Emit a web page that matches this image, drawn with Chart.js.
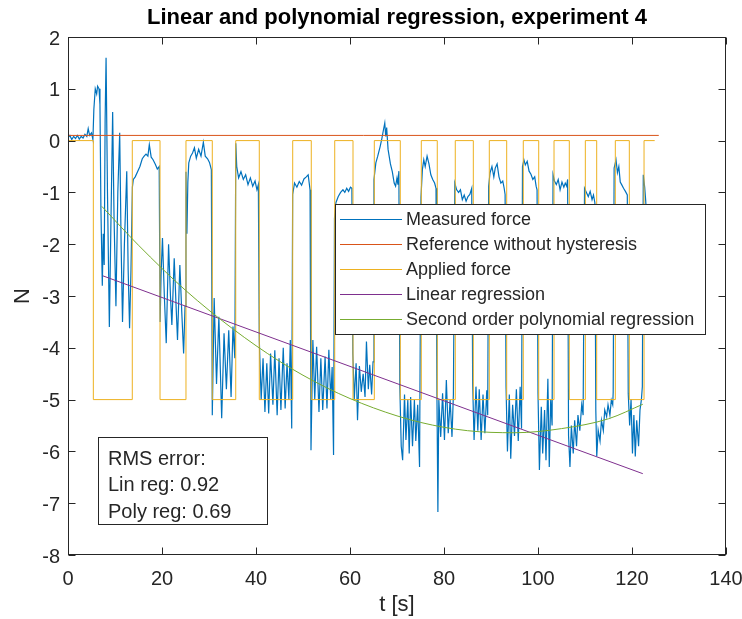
<!DOCTYPE html>
<html><head><meta charset="utf-8">
<script src="https://cdn.jsdelivr.net/npm/chart.js@4.4.1/dist/chart.umd.min.js"></script>
<style>html,body{margin:0;padding:0;background:#fff;}#wrap{width:742px;height:619px;}</style>
</head><body><div id="wrap"><canvas id="c" width="742" height="619"></canvas></div>
<script>
const titleText = 'Linear and polynomial regression, experiment 4';
const xLabel = 't [s]';
const yLabel = 'N';
const seriesNames = ['Measured force','Reference without hysteresis','Applied force','Linear regression','Second order polynomial regression'];
const rmsLines = ['RMS error:','Lin reg: 0.92','Poly reg: 0.69'];
const xTicks = [0,20,40,60,80,100,120,140];
const yTicks = [2,1,0,-1,-2,-3,-4,-5,-6,-7,-8];

const measuredT = [
0,0.4,0.8,1.2,1.6,2.0,2.4,2.8,3.2,3.6,4.0,4.3,4.6,5.0,5.3,
5.5,5.8,6.1,6.3,6.6,6.8,7.0,7.3,7.5,7.7,7.9,8.1,8.4,8.8,9.1,9.5,9.8,10.2,10.6,11.0,11.3,11.6,12.0,12.5,12.8,13.1,13.4,
13.7,13.9,14.3,14.8,15.3,15.8,16.2,16.6,17.0,17.3,17.7,18.1,18.6,19.0,19.4,
19.6,19.8,20.1,20.5,20.9,21.4,21.8,22.1,22.6,23.0,23.3,23.8,24.2,24.6,24.9,
25.1,25.3,25.5,25.7,26.1,26.5,26.9,27.3,27.8,28.3,28.8,29.2,29.7,30.1,30.5,
30.7,31.1,31.6,32.1,32.7,33.2,33.7,34.2,34.7,35.1,35.5,
35.7,35.9,36.3,36.8,37.3,37.8,38.3,38.8,39.3,39.8,40.2,40.5,
40.7,41.1,41.5,41.9,42.3,42.7,43.1,43.6,44.0,44.5,44.9,45.3,45.8,46.2,46.6,47.0,47.3,47.6,
47.8,48.2,48.7,49.2,49.7,50.2,50.7,51.1,51.5,
51.7,52.1,52.5,52.9,53.4,53.8,54.2,54.7,55.1,55.5,55.9,56.2,56.5,
56.7,57.0,57.5,58.0,58.5,58.9,59.3,59.7,60.1,60.4,
60.6,60.9,61.3,61.6,62.0,62.4,62.8,63.2,63.5,63.9,64.2,64.6,64.9,
65.1,65.5,65.9,66.4,66.8,67.1,67.4,67.6,67.8,68.1,68.6,69.0,69.4,69.7,70.0,70.2,70.4,
70.6,70.9,71.2,71.6,71.9,72.3,72.6,72.9,73.3,73.7,74.0,74.4,74.8,
75.1,75.4,75.7,76.0,76.4,76.8,77.2,77.6,78.0,78.3,
78.5,78.7,78.9,79.3,79.7,80.1,80.5,80.9,81.3,81.7,82.0,
82.3,82.7,83.1,83.5,83.9,84.3,84.7,85.1,85.5,85.9,
86.1,86.4,86.8,87.2,87.5,87.9,88.3,88.7,89.1,89.3,
89.5,89.8,90.2,90.6,90.9,91.3,91.7,92.1,92.5,92.8,93.0,
93.2,93.5,93.9,94.2,94.6,95.0,95.4,95.8,96.2,96.5,
96.7,97.0,97.3,97.7,98.1,98.5,98.9,99.3,99.6,99.8,
100.0,100.3,100.7,101.0,101.4,101.7,102.1,102.4,102.7,103.0,
103.2,103.5,103.9,104.3,104.7,105.1,105.5,105.8,106.1,106.3,
106.5,106.8,107.1,107.5,107.8,108.2,108.5,108.9,109.3,109.6,
109.9,110.3,110.7,111.1,111.5,111.8,112.1,
112.3,112.5,112.8,113.2,113.5,113.9,114.2,114.6,114.9,115.3,115.6,115.9,116.0,
116.2,116.6,116.9,117.2,117.5,117.8,118.2,118.6,119.0,
119.2,119.5,119.8,120.1,120.4,120.7,121.0,121.4,121.7,122.0,122.2,
122.4,122.7,122.9,123.2];
const measuredN = [
0.05,0.1,0.02,0.08,0.04,0.1,0.03,0.08,0.05,0.12,0.08,0.23,0.1,0.15,0.02,
0.6,1.0,0.9,1.05,1.0,0.7,-1.3,-2.8,-1.8,-2.4,0.4,1.6,-1.0,-3.6,-1.8,0.55,-1.5,-3.2,-1.0,0.15,-2.0,-3.5,-2.0,-0.59,-2.5,-3.62,-2.5,
-0.9,-0.75,-0.7,-0.6,-0.5,-0.35,-0.3,-0.26,-0.3,-0.08,-0.32,-0.37,-0.46,-0.55,-0.5,
-3.5,-2.6,-1.88,-3.0,-3.91,-2.0,-3.0,-3.56,-2.27,-3.2,-3.85,-2.4,-3.3,-4.11,-3.2,
-0.6,-1.8,-0.8,-0.43,-0.3,-0.24,-0.14,-0.34,-0.17,-0.3,-0.03,-0.3,-0.35,-0.42,-0.56,
-5.3,-3.04,-4.7,-3.4,-5.36,-3.72,-4.8,-3.66,-4.95,-3.59,-4.2,
-0.05,-0.5,-0.72,-0.6,-0.75,-0.66,-0.85,-0.72,-0.88,-0.78,-0.95,-0.85,
-3.85,-5.0,-4.2,-5.24,-4.3,-5.27,-4.11,-5.1,-4.05,-5.3,-4.2,-5.2,-4.0,-5.17,-4.3,-5.0,-3.85,-5.56,
-1.04,-0.82,-0.9,-0.79,-0.86,-0.74,-0.7,-0.66,-0.95,
-5.98,-3.85,-5.0,-3.98,-5.24,-4.2,-5.2,-4.17,-5.17,-4.04,-5.0,-4.37,-6.07,
-1.5,-1.2,-1.08,-1.0,-0.95,-1.0,-0.92,-0.98,-0.9,-0.92,
-4.11,-5.0,-4.3,-5.4,-4.35,-4.85,-4.5,-4.95,-3.88,-4.8,-4.33,-4.9,-4.27,
-0.75,-0.43,-0.3,-0.12,0.05,0.2,0.34,0.08,0.25,-0.17,-0.45,-0.6,-0.82,-0.88,-0.72,-0.85,-0.59,
-4.75,-5.9,-6.17,-4.9,-5.78,-5.0,-6.04,-4.95,-5.9,-5.01,-5.8,-5.1,-6.3,
-1.1,-0.56,-0.37,-0.5,-0.3,-0.45,-0.66,-0.75,-0.82,-0.92,
-4.95,-7.17,-5.0,-5.72,-4.88,-5.78,-4.62,-5.65,-5.01,-5.72,-4.9,
-0.82,-0.95,-1.0,-0.95,-1.14,-1.05,-1.17,-1.08,-1.04,-0.92,
-4.7,-5.78,-4.75,-5.6,-4.8,-5.78,-4.9,-5.65,-4.82,-5.3,
-0.88,-0.62,-0.5,-0.7,-0.53,-0.45,-0.7,-0.82,-0.78,-0.92,-1.04,
-4.75,-6.0,-4.9,-6.14,-5.1,-5.7,-4.8,-5.8,-4.75,-5.56,
-0.5,-0.37,-0.47,-0.4,-0.59,-0.65,-0.75,-0.7,-0.88,-0.95,
-4.88,-6.36,-5.14,-6.04,-5.2,-6.17,-4.6,-6.3,-5.0,-5.5,
-0.66,-0.78,-0.85,-0.75,-0.95,-0.8,-0.9,-0.82,-0.88,-0.75,
-5.7,-6.3,-5.5,-6.04,-5.4,-5.9,-5.3,-5.6,-5.1,-5.3,
-0.92,-1.0,-1.08,-0.98,-1.14,-1.05,-1.2,
-5.2,-6.1,-5.59,-5.8,-5.4,-5.6,-5.2,-5.33,-5.1,-5.3,-5.01,-5.1,-4.85,
-0.53,-0.37,-0.62,-0.5,-0.8,-0.85,-0.92,-0.98,-1.05,
-4.88,-5.5,-5.0,-6.04,-5.3,-6.1,-5.4,-5.9,-5.2,-5.0,-4.75,
-0.66,-0.9,-1.14,-1.6];

const referenceT = [0, 125.7];
const referenceN = [0.1, 0.1];

const appliedT = [0,5.39,13.68,19.58,25.1,30.7,35.69,40.7,47.81,51.76,56.75,60.64,65.17,70.7,75.17,78.57,82.4,86.24,89.64,93.34,96.87,100.15,103.41,106.66,110.07,112.49,116.45,119.43,122.56,124.83];
const appliedN = [0,-5,0,-5,0,-5,0,-5,0,-5,0,-5,0,-5,0,-5,0,-5,0,-5,0,-5,0,-5,0,-5,0,-5,0,0];

const linearT = [7.4, 122.3];
const linearN = [-2.61, -6.43];

const polyT = [7.2,15,25,35,45,55,65,75,85,95,105,115,122.3];
const polyN = [-1.27,-2.02,-2.89,-3.63,-4.26,-4.77,-5.16,-5.44,-5.6,-5.64,-5.56,-5.37,-5.09];

const colors = ['#0072BD','#D95319','#EDB120','#7E2F8E','#77AC30'];
const widths = [1.2, 1, 1, 1, 1];
const ink = '#262626';
const FONT = '"Liberation Sans", Arial, sans-serif';

function pts(t, v){ return t.map((x,i)=>({x:x, y:v[i]})); }

const frame = {
  id: 'frame',
  afterDatasetsDraw(chart){
    const {ctx, chartArea:a, scales} = chart;
    const xs = scales.x, ys = scales.y;
    ctx.save();
    ctx.strokeStyle = ink; ctx.lineWidth = 1;
    const L = Math.round(a.left)+0.5, R = Math.round(a.right)-0.5, T = Math.round(a.top)+0.5, B = Math.round(a.bottom)-0.5;
    ctx.beginPath();
    xTicks.forEach(v=>{ const p = Math.round(xs.getPixelForValue(v))+0.5; ctx.moveTo(p,B); ctx.lineTo(p,B-7); ctx.moveTo(p,T); ctx.lineTo(p,T+7); });
    yTicks.forEach(v=>{ const p = Math.round(ys.getPixelForValue(v))+0.5; ctx.moveTo(L,p); ctx.lineTo(L+7,p); ctx.moveTo(R,p); ctx.lineTo(R-7,p); });
    ctx.stroke();
    ctx.strokeRect(L, T, R-L, B-T);

    // legend box
    const lx = 335.5, ly = 204.5, lw = 370, lh = 130;
    ctx.fillStyle = '#fff'; ctx.fillRect(lx, ly, lw, lh);
    ctx.strokeStyle = ink; ctx.strokeRect(lx, ly, lw, lh);
    ctx.font = '18px ' + FONT; ctx.textBaseline = 'middle'; ctx.textAlign = 'left';
    chart.data.datasets.forEach((ds,i)=>{
      const yy = 219.5 + i*25;
      ctx.strokeStyle = ds.borderColor; ctx.lineWidth = 1;
      ctx.beginPath(); ctx.moveTo(340, yy); ctx.lineTo(402, yy); ctx.stroke();
      ctx.fillStyle = ink; ctx.fillText(ds.label, 406, yy+1);
    });

    // RMS box
    const bx = 98.5, by = 437.5, bw = 169, bh = 87;
    ctx.fillStyle = '#fff'; ctx.fillRect(bx, by, bw, bh);
    ctx.strokeStyle = ink; ctx.lineWidth = 1; ctx.strokeRect(bx, by, bw, bh);
    ctx.fillStyle = ink;
    ctx.font = '20px ' + FONT;
    rmsLines.forEach((s,i)=>{ ctx.fillText(s, 108, 459 + i*26.5); });
    ctx.restore();
  },
  afterDraw(chart){
    const {ctx, chartArea:a} = chart;
    ctx.save();
    ctx.fillStyle = '#000'; ctx.textAlign = 'center'; ctx.textBaseline = 'middle';
    ctx.font = 'bold 22px ' + FONT;
    ctx.fillText(titleText, (a.left+a.right)/2, 18);
    ctx.fillStyle = ink;
    ctx.font = '22px ' + FONT;
    ctx.fillText(xLabel, (a.left+a.right)/2, 605);
    ctx.translate(23, (a.top+a.bottom)/2);
    ctx.rotate(-Math.PI/2);
    ctx.fillText(yLabel, 0, 0);
    ctx.restore();
  }
};

const specs = [
  {t: measuredT, v: measuredN, order: 5},
  {t: referenceT, v: referenceN, order: 4},
  {t: appliedT, v: appliedN, order: 3, stepped: 'before'},
  {t: linearT, v: linearN, order: 2},
  {t: polyT, v: polyN, order: 1, tension: 0.4}
];

function zeroPad(s){ s.paddingLeft = 0; s.paddingRight = 0; s.paddingTop = 0; s.paddingBottom = 0; }

new Chart(document.getElementById('c'), {
  type: 'line',
  data: {
    datasets: specs.map((s,i)=>({
      label: seriesNames[i],
      data: pts(s.t, s.v),
      borderColor: colors[i],
      backgroundColor: colors[i],
      borderWidth: widths[i],
      pointRadius: 0,
      fill: false,
      order: s.order,
      stepped: s.stepped || false,
      tension: s.tension || 0,
      cubicInterpolationMode: s.tension ? 'monotone' : 'default'
    }))
  },
  options: {
    responsive: false,
    animation: false,
    devicePixelRatio: 1,
    layout: { padding: { left: 0, right: 16, top: 37, bottom: 0 } },
    plugins: { legend: { display: false }, tooltip: { enabled: false }, title: { display: false } },
    scales: {
      x: {
        type: 'linear', min: 0, max: 140,
        afterBuildTicks: s => { s.ticks = xTicks.map(v=>({value:v})); },
        afterFit: s => { s.height = 64; zeroPad(s); },
        grid: { display: false, drawTicks: false },
        border: { display: false },
        ticks: { padding: 12, color: ink, font: { family: FONT, size: 20 }, maxRotation: 0, autoSkip: false }
      },
      y: {
        type: 'linear', min: -8, max: 2,
        afterBuildTicks: s => { s.ticks = yTicks.map(v=>({value:v})); },
        afterFit: s => { s.width = 68; zeroPad(s); },
        grid: { display: false, drawTicks: false },
        border: { display: false },
        ticks: { padding: 8, labelOffset: 2, color: ink, font: { family: FONT, size: 20 }, autoSkip: false }
      }
    }
  },
  plugins: [frame]
});
</script>
</body></html>
